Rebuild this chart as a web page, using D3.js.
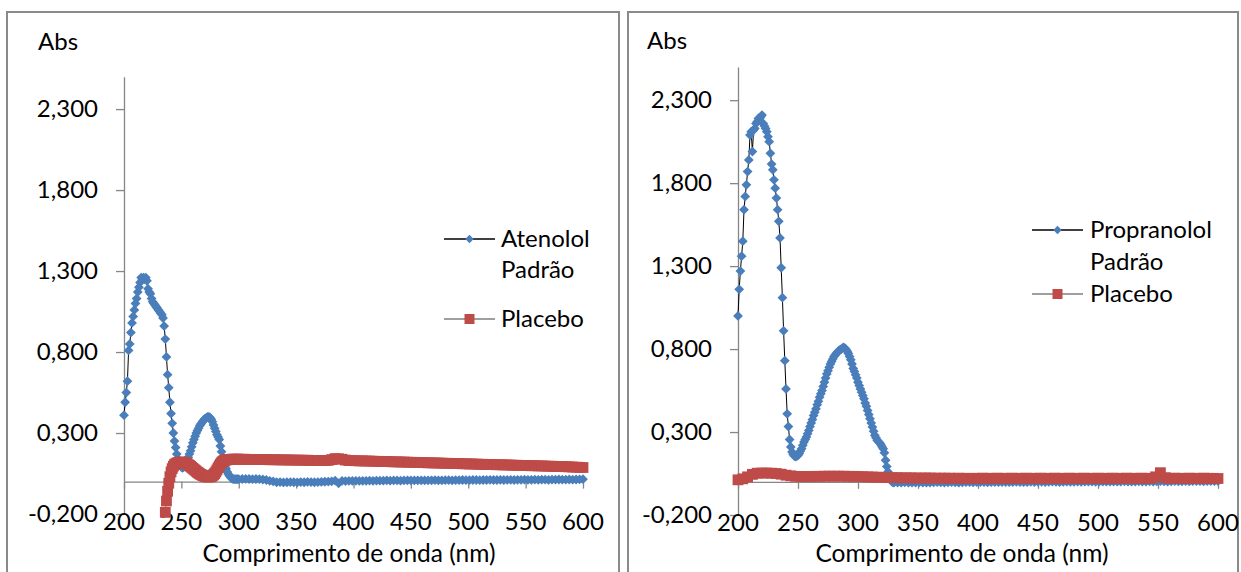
<!DOCTYPE html>
<html>
<head>
<meta charset="utf-8">
<script src="https://cdn.jsdelivr.net/npm/d3@7"></script>
<style>
body { margin: 0; background: #fff; }
text { font-family: Lato, "Open Sans", sans-serif; fill: #000; }
</style>
</head>
<body>
<div id="chart"></div>
<script>
// ---- data (absorbance) ----
var yTicks = [-0.2, 0.3, 0.8, 1.3, 1.8, 2.3];
var yTickLabels = ["-0,200", "0,300", "0,800", "1,300", "1,800", "2,300"];
var xTicks = [200, 250, 300, 350, 400, 450, 500, 550, 600];
var xTitle = "Comprimento de onda (nm)";
var yTitle = "Abs";

// left chart: Atenolol padrão
var atenololNm = d3.range(200, 301).concat(d3.range(303, 601, 3));
var atenololAbs = [
  0.41, 0.49, 0.55, 0.62, 0.81, 0.85, 0.92, 0.98, 1.02, 1.06,
  1.10, 1.13, 1.17, 1.20, 1.23, 1.26, 1.25, 1.26, 1.25, 1.26,
  1.24, 1.19, 1.17, 1.16, 1.13, 1.11, 1.10, 1.09, 1.08, 1.07,
  1.06, 1.05, 1.04, 1.03, 1.01, 0.96, 0.88, 0.77, 0.66, 0.58,
  0.49, 0.42, 0.36, 0.30, 0.25, 0.21, 0.17, 0.14, 0.12, 0.10,
  0.09, 0.085, 0.09, 0.10, 0.115, 0.13, 0.15, 0.17, 0.19, 0.215,
  0.24, 0.26, 0.28, 0.30, 0.315, 0.33, 0.345, 0.355, 0.365, 0.375,
  0.385, 0.39, 0.395, 0.40, 0.40, 0.395, 0.385, 0.37, 0.35, 0.33,
  0.31, 0.29, 0.275, 0.26, 0.22, 0.185, 0.15, 0.12, 0.095, 0.08,
  0.06, 0.045, 0.035, 0.025, 0.02, 0.016, 0.015, 0.015, 0.015, 0.015,
  0.015,
  // 303..600 step 3
  0.016, 0.017, 0.016, 0.015, 0.016, 0.015, 0.013, 0.010, 0.005, 0.001,
  -0.004, -0.003, -0.005, -0.004, -0.003, -0.004, -0.005, -0.003, -0.004, -0.002,
  -0.003, -0.004, -0.003, -0.002, -0.001, 0.0, 0.002,
  0.006, -0.01, 0.004,
  0.003, 0.004, 0.004, 0.005, 0.004, 0.005, 0.005, 0.006, 0.005, 0.006,
  0.006, 0.006, 0.007, 0.006, 0.007, 0.007, 0.006, 0.007, 0.008, 0.007,
  0.007, 0.008, 0.008, 0.007, 0.008, 0.008, 0.009, 0.008, 0.008, 0.009,
  0.009, 0.008, 0.009, 0.009, 0.010, 0.009, 0.009, 0.010, 0.010, 0.009,
  0.010, 0.010, 0.011, 0.010, 0.010, 0.011, 0.010, 0.011, 0.011, 0.010,
  0.011, 0.011, 0.012, 0.011, 0.011, 0.012, 0.011, 0.012, 0.012, 0.011,
  0.012, 0.012, 0.013, 0.012, 0.012, 0.013, 0.012, 0.013, 0.014, 0.015
];

// left chart: placebo
var placeboLNm = d3.range(236, 301).concat(d3.range(303, 601, 3));
var placeboLAbs = [
  -0.19, -0.12, -0.06, -0.01, 0.03, 0.06, 0.08, 0.095, 0.105, 0.11,
  0.114, 0.117, 0.119, 0.12, 0.12, 0.12, 0.119, 0.117, 0.114, 0.11,
  0.105, 0.10, 0.094, 0.088, 0.082, 0.076, 0.07, 0.064, 0.058, 0.053,
  0.048, 0.044, 0.04, 0.037, 0.034, 0.032, 0.03, 0.029, 0.029, 0.03,
  0.032, 0.036, 0.042, 0.05, 0.06, 0.072, 0.085, 0.097, 0.108, 0.117,
  0.124, 0.129, 0.132, 0.134, 0.135, 0.136, 0.137, 0.137, 0.138, 0.138,
  0.138, 0.138, 0.138, 0.138, 0.138,
  // 303..600 step 3
  0.138, 0.138, 0.137, 0.137, 0.137, 0.136, 0.136, 0.136, 0.135, 0.135,
  0.135, 0.134, 0.134, 0.134, 0.133, 0.133, 0.133, 0.132, 0.132, 0.132,
  0.131, 0.131, 0.131, 0.130, 0.130, 0.131, 0.136,
  0.142, 0.141, 0.138, 0.133,
  0.130, 0.130, 0.129, 0.128, 0.128, 0.127, 0.127, 0.126, 0.125, 0.125,
  0.124, 0.124, 0.123, 0.122, 0.122, 0.121, 0.121, 0.120, 0.119, 0.119,
  0.118, 0.118, 0.117, 0.116, 0.116, 0.115, 0.115, 0.114, 0.113, 0.113,
  0.112, 0.112, 0.111, 0.110, 0.110, 0.109, 0.109, 0.108, 0.107, 0.107,
  0.106, 0.106, 0.105, 0.104, 0.104, 0.103, 0.103, 0.102, 0.101, 0.101,
  0.100, 0.100, 0.099, 0.098, 0.098, 0.097, 0.097, 0.096, 0.095, 0.095,
  0.094, 0.093, 0.093, 0.092, 0.091, 0.090, 0.089, 0.088, 0.087
];

// right chart: Propranolol padrão
var propranololNm = d3.range(200, 331).concat(d3.range(333, 601, 3));
var propranololAbs = [
  1.00, 1.16, 1.27, 1.36, 1.45, 1.64, 1.72, 1.79, 1.87, 1.94,
  2.09, 2.11, 1.99, 2.12, 2.13, 2.16, 2.17, 2.19, 2.19, 2.20,
  2.21, 2.16, 2.145, 2.13, 2.11, 2.08, 2.05, 1.98, 1.915, 1.88,
  1.82, 1.77, 1.71, 1.64, 1.57, 1.47, 1.29, 1.11, 0.91, 0.73,
  0.56, 0.41, 0.333, 0.255, 0.21, 0.18, 0.165, 0.155, 0.152, 0.155,
  0.16, 0.17, 0.185, 0.20, 0.22, 0.24, 0.255, 0.27, 0.29, 0.31,
  0.333, 0.355, 0.375, 0.40, 0.42, 0.44, 0.465, 0.485, 0.51, 0.53,
  0.55, 0.575, 0.60, 0.625, 0.65, 0.67, 0.69, 0.71, 0.725, 0.74,
  0.755, 0.765, 0.775, 0.782, 0.79, 0.795, 0.80, 0.806, 0.81, 0.806,
  0.798, 0.787, 0.773, 0.755, 0.735, 0.71, 0.683, 0.665, 0.645, 0.625,
  0.60, 0.58, 0.56, 0.54, 0.52, 0.50, 0.475, 0.455, 0.43, 0.405,
  0.38, 0.355, 0.33, 0.305, 0.28, 0.265, 0.25, 0.243, 0.235, 0.225,
  0.212, 0.20, 0.175, 0.13, 0.092, 0.06, 0.035, 0.015, 0.003, -0.003,
  -0.005,
  // 333..600 step 3
  -0.004, -0.005, -0.003, -0.004, -0.005, -0.004, -0.003, -0.004, -0.005, -0.004,
  -0.003, -0.002, -0.003, -0.004, -0.003, -0.002, -0.003, -0.004, -0.003, -0.002,
  -0.002, -0.003, -0.002, -0.001, -0.002, -0.003, -0.002, -0.001, -0.002, -0.001,
  -0.001, -0.002, -0.001, 0.0, -0.001, -0.002, -0.001, 0.0, -0.001, 0.0,
  0.0, -0.001, 0.0, 0.001, 0.0, -0.001, 0.0, 0.001, 0.0, 0.0,
  0.001, 0.0, 0.001, 0.002, 0.001, 0.0, 0.001, 0.002, 0.001, 0.001,
  0.002, 0.001, 0.002, 0.003, 0.002, 0.001, 0.002, 0.003, 0.002, 0.002,
  0.003, 0.002, 0.003, 0.004, 0.003, 0.002, 0.003, 0.004, 0.003, 0.003,
  0.004, 0.003, 0.004, 0.005, 0.004, 0.003, 0.004, 0.005, 0.004, 0.005
];

// right chart: placebo
var placeboRNm = d3.range(200, 601, 4);
var placeboRAbs = [
  0.012, 0.018, 0.03, 0.045, 0.052, 0.053, 0.053, 0.052, 0.05, 0.046,
  0.04, 0.036, 0.033, 0.032, 0.032, 0.032, 0.033, 0.033, 0.034, 0.034,
  0.034, 0.034, 0.034, 0.033, 0.033, 0.032, 0.031, 0.03, 0.029, 0.028,
  0.027, 0.026, 0.025, 0.025, 0.024, 0.024, 0.024, 0.023, 0.023, 0.023,
  0.023, 0.022, 0.022, 0.022, 0.022, 0.021, 0.022, 0.021, 0.021, 0.021,
  0.021, 0.022, 0.021, 0.021, 0.022, 0.021, 0.021, 0.022, 0.021, 0.021,
  0.022, 0.021, 0.021, 0.022, 0.021, 0.021, 0.022, 0.021, 0.021, 0.022,
  0.021, 0.021, 0.022, 0.021, 0.021, 0.022, 0.021, 0.021, 0.022, 0.021,
  0.021, 0.022, 0.021, 0.021, 0.022, 0.021, 0.021, 0.03, 0.055, 0.025,
  0.021, 0.022, 0.021, 0.021, 0.022, 0.021, 0.021, 0.022, 0.021, 0.021,
  0.02
];

// ---- drawing ----
var svg = d3.select("#chart").append("svg")
    .attr("width", 1241)
    .attr("height", 572);

var blue = "#4a7ebb", red = "#be4b48", axisGrey = "#868686";

function diamond(r) { return "M0," + (-r) + "L" + r + ",0L0," + r + "L" + (-r) + ",0Z"; }
function square(r) { return "M" + (-r) + "," + (-r) + "h" + (2 * r) + "v" + (2 * r) + "h" + (-2 * r) + "Z"; }

var panels = [
  {
    box: [7, 12, 612, 600],
    xRange: [124, 583], yRange: [514, 76.7],
    absX: 38, absY: 50, titleX: 349, titleY: 562,
    legend: { lineX: 444, textX: 501, rows: [239, 319], lineGap: 31 },
    series: [
      { name: ["Atenolol", "Padrão"], nm: atenololNm, abs: atenololAbs, color: blue, line: "#000", shape: diamond(4.9) },
      { name: ["Placebo"], nm: placeboLNm, abs: placeboLAbs, color: red, line: "#7f7f7f", shape: square(5.4) }
    ]
  },
  {
    box: [628, 12, 610, 600],
    xRange: [738, 1218], yRange: [515, 67],
    absX: 647, absY: 49, titleX: 962, titleY: 562,
    legend: { lineX: 1032, textX: 1090, rows: [230, 294], lineGap: 32 },
    series: [
      { name: ["Propranolol", "Padrão"], nm: propranololNm, abs: propranololAbs, color: blue, line: "#000", shape: diamond(4.9) },
      { name: ["Placebo"], nm: placeboRNm, abs: placeboRAbs, color: red, line: "#7f7f7f", shape: square(5.4) }
    ]
  }
];

panels.forEach(function(p) {
  var g = svg.append("g");

  g.append("rect")
      .attr("x", p.box[0]).attr("y", p.box[1])
      .attr("width", p.box[2]).attr("height", p.box[3])
      .attr("fill", "none")
      .attr("stroke", "#8a8a8a")
      .attr("stroke-width", 2);

  var x = d3.scaleLinear().domain([200, 600]).range(p.xRange);
  var y = d3.scaleLinear().domain([-0.2, 2.5]).range(p.yRange);

  // y axis
  var yAxis = g.append("g")
      .attr("transform", "translate(" + p.xRange[0] + ",0)")
      .call(d3.axisLeft(y).tickValues(yTicks)
        .tickFormat(function(d, i) { return yTickLabels[i]; })
        .tickSize(8).tickSizeOuter(0).tickPadding(18));
  yAxis.select(".domain").attr("stroke", axisGrey).attr("stroke-width", 1.3);
  yAxis.selectAll(".tick line").attr("stroke", axisGrey).attr("stroke-width", 1.3);
  yAxis.selectAll("text").attr("font-size", 24).attr("font-family", "Lato").attr("fill", "#000");

  // x axis line at y = 0, ticks downward
  var xAxis = g.append("g")
      .attr("transform", "translate(0," + y(0) + ")")
      .call(d3.axisBottom(x).tickValues(xTicks).tickSize(7).tickSizeOuter(0).tickFormat(""));
  xAxis.select(".domain").attr("stroke", axisGrey).attr("stroke-width", 1.3);
  xAxis.selectAll(".tick line").attr("stroke", axisGrey).attr("stroke-width", 1.3);

  // x tick labels sit below the plot area
  g.append("g").selectAll("text")
      .data(xTicks)
      .enter().append("text")
      .attr("x", function(d) { return x(d); })
      .attr("y", p.yRange[0] + 8)
      .attr("dy", "0.35em")
      .attr("text-anchor", "middle")
      .attr("font-size", 24)
      .text(function(d) { return d; });

  g.append("text")
      .attr("x", p.absX).attr("y", p.absY)
      .attr("font-size", 24)
      .text(yTitle);

  g.append("text")
      .attr("x", p.titleX).attr("y", p.titleY)
      .attr("text-anchor", "middle")
      .attr("font-size", 24.5)
      .text(xTitle);

  // series: line then markers
  p.series.forEach(function(s) {
    var pts = s.nm.map(function(d, i) { return [d, s.abs[i]]; });
    g.append("path")
        .datum(pts)
        .attr("fill", "none")
        .attr("stroke", s.line)
        .attr("stroke-width", 1)
        .attr("d", d3.line().x(function(d) { return x(d[0]); }).y(function(d) { return y(d[1]); }));
    g.append("g").selectAll("path")
        .data(pts)
        .enter().append("path")
        .attr("d", s.shape)
        .attr("fill", s.color)
        .attr("transform", function(d) { return "translate(" + x(d[0]) + "," + y(d[1]) + ")"; });
  });

  // legend
  var lg = g.append("g");
  p.series.forEach(function(s, i) {
    var ly = p.legend.rows[i];
    lg.append("line")
        .attr("x1", p.legend.lineX).attr("x2", p.legend.lineX + 51)
        .attr("y1", ly).attr("y2", ly)
        .attr("stroke", s.line).attr("stroke-width", 1.5);
    lg.append("path")
        .attr("d", i === 0 ? diamond(4.2) : square(5))
        .attr("fill", s.color)
        .attr("transform", "translate(" + (p.legend.lineX + 25.5) + "," + ly + ")");
    s.name.forEach(function(t, k) {
      lg.append("text")
          .attr("x", p.legend.textX)
          .attr("y", ly + k * p.legend.lineGap)
          .attr("dy", "0.35em")
          .attr("font-size", 24)
          .text(t);
    });
  });
});
</script>
</body>
</html>
